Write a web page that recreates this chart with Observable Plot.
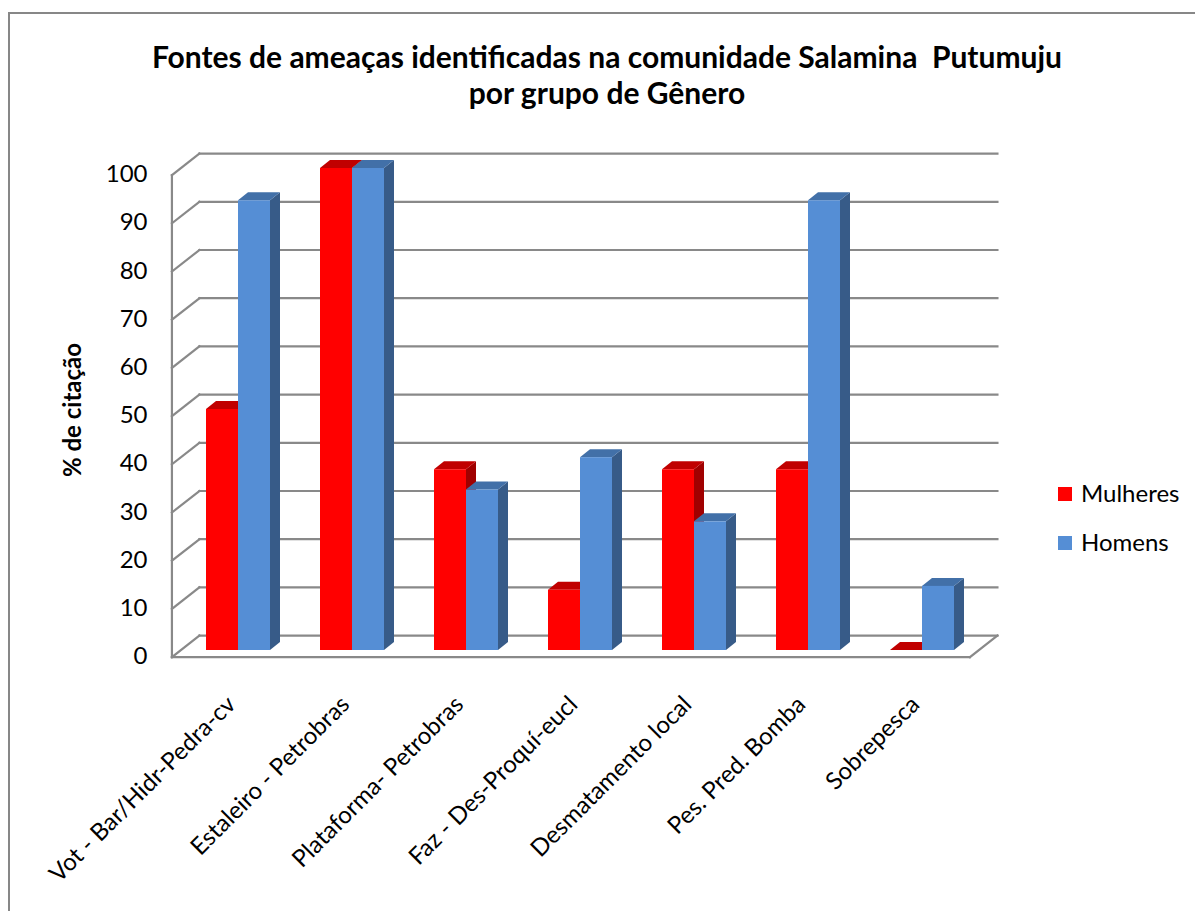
<!DOCTYPE html>
<html>
<head>
<meta charset="utf-8">
<script src="https://cdn.jsdelivr.net/npm/d3@7"></script>
<script src="https://cdn.jsdelivr.net/npm/@observablehq/plot@0.6"></script>
<style>
  html, body { margin: 0; padding: 0; background: #ffffff; }
  #frame { position: relative; width: 1195px; height: 911px; overflow: hidden; font-family: Lato, "Open Sans", sans-serif; color: #000; }
  #border { position: absolute; left: 8px; top: 12px; width: 1400px; height: 1100px; border-left: 2.5px solid #878787; border-top: 2.5px solid #878787; }
  #title { position: absolute; top: 38px; left: 0; width: 1214px; text-align: center; font-weight: bold; font-size: 30px; line-height: 36px; white-space: pre; }
  #chart { position: absolute; top: 120px; left: 0; }
  #ylabel { position: absolute; left: 71px; top: 410px; transform: translate(-50%, -50%) rotate(-90deg); font-weight: bold; font-size: 24px; white-space: nowrap; }
  .leg { position: absolute; left: 1058px; font-size: 24px; line-height: 24px; white-space: nowrap; }
  .leg span.sw { display: inline-block; width: 14px; height: 14px; margin-right: 9px; vertical-align: 1px; }
</style>
</head>
<body>
<div id="frame">
  <div id="border"></div>
  <div id="title">Fontes de ameaças identificadas na comunidade Salamina  Putumuju
por grupo de Gênero</div>
  <div id="chart"></div>
  <div id="ylabel">% de citação</div>
  <div class="leg" id="leg1" style="top:481px"><span class="sw" style="background:#FF0000"></span>Mulheres</div>
  <div class="leg" id="leg2" style="top:530px"><span class="sw" style="background:#558ED5"></span>Homens</div>
</div>
<script>
// ---- data ----
const categories = [
  "Vot - Bar/Hidr-Pedra-cv",
  "Estaleiro - Petrobras",
  "Plataforma- Petrobras",
  "Faz - Des-Proquí-eucl",
  "Desmatamento local",
  "Pes. Pred. Bomba",
  "Sobrepesca"
];
const seriesNames = ["Mulheres", "Homens"];
const mulheres = [50, 100, 37.5, 12.5, 37.5, 37.5, 0];
const homens = [93.3, 100, 33.3, 40, 26.7, 93.3, 13.3];
const yTicks = [0, 10, 20, 30, 40, 50, 60, 70, 80, 90, 100];

const rowsM = categories.map((c, i) => ({categoria: c, serie: seriesNames[0], valor: mulheres[i]}));
const rowsH = categories.map((c, i) => ({categoria: c, serie: seriesNames[1], valor: homens[i]}));

// ---- styling constants ----
const BAR_SHIFT = 16;          // half a bar: red left of band centre, blue right
const BAR_DEPTH = [10, -8];    // 3D depth of each bar (px)
const WALL_DEPTH = [27.5, -21.5];
const WALL_T = 0.33;           // where the bar plane sits inside the wall depth
const GRID = "#898989";

const ns = "http://www.w3.org/2000/svg";
function el(tag, attrs) {
  const e = document.createElementNS(ns, tag);
  for (const k in attrs) e.setAttribute(k, attrs[k]);
  return e;
}

// back wall, side wall and floor drawn from the y scale
function walls(index, scales, values, dims) {
  const y = scales.y;
  const L = dims.marginLeft, R = dims.width - dims.marginRight;
  const [wx, wy] = WALL_DEPTH;
  const fxL = L - WALL_T * wx, bxL = L + (1 - WALL_T) * wx;
  const fxR = R - WALL_T * wx, bxR = R + (1 - WALL_T) * wx;
  const fy = v => y(v) - WALL_T * wy;
  const by = v => y(v) + (1 - WALL_T) * wy;
  const g = el("g", {stroke: GRID, "stroke-width": 2.2, fill: "none", "stroke-linecap": "square"});
  for (const v of yTicks) {
    g.appendChild(el("line", {x1: bxL, x2: bxR, y1: by(v), y2: by(v)}));
    g.appendChild(el("line", {x1: fxL, x2: bxL, y1: fy(v), y2: by(v)}));
  }
  g.appendChild(el("line", {x1: fxL, x2: fxL, y1: fy(0), y2: fy(100)}));
  g.appendChild(el("line", {x1: fxL, x2: fxR, y1: fy(0), y2: fy(0)}));
  g.appendChild(el("line", {x1: fxR, x2: bxR, y1: fy(0), y2: by(0)}));
  return g;
}

// top and side faces of bars, from the x and y scales
function depthFaces(vals, shift, topColor, sideColor) {
  return function (index, scales) {
    const {x, y} = scales;
    const bw = x.bandwidth();
    const [dx, dy] = BAR_DEPTH;
    const g = el("g", {});
    vals.forEach((v, i) => {
      const xl = x(categories[i]) + shift;
      const xr = xl + bw;
      const yt = y(v), y0 = y(0);
      g.appendChild(el("polygon", {
        points: `${xr},${yt} ${xr + dx},${yt + dy} ${xr + dx},${y0 + dy} ${xr},${y0}`,
        fill: sideColor
      }));
      g.appendChild(el("polygon", {
        points: `${xl},${yt} ${xr},${yt} ${xr + dx},${yt + dy} ${xl + dx},${yt + dy}`,
        fill: topColor
      }));
    });
    return g;
  };
}

const chart = Plot.plot({
  width: 1195,
  height: 791,
  marginTop: 48,
  marginBottom: 261,
  marginLeft: 181,
  marginRight: 216,
  style: {fontFamily: "Lato, 'Open Sans', sans-serif", fontSize: "24px", color: "#000", background: "transparent", overflow: "visible"},
  x: {domain: categories, paddingInner: 0.7193, paddingOuter: 0.3596, label: null},
  y: {domain: [0, 100], label: null},
  marks: [
    walls,
    Plot.axisY({ticks: yTicks, tickSize: 0, tickPadding: 34, dy: 6, fontSize: 24, label: null}),
    Plot.axisX({tickRotate: -45, tickSize: 0, tickPadding: 50, dx: -7, fontSize: 24, label: null}),
    depthFaces(mulheres, -BAR_SHIFT, "#C00000", "#A00000"),
    Plot.barY(rowsM, {x: "categoria", y: "valor", fill: "#FF0000", dx: -BAR_SHIFT}),
    depthFaces(homens, BAR_SHIFT, "#4270A8", "#375B88"),
    Plot.barY(rowsH, {x: "categoria", y: "valor", fill: "#558ED5", dx: BAR_SHIFT})
  ]
});
document.getElementById("chart").appendChild(chart);
</script>
</body>
</html>
